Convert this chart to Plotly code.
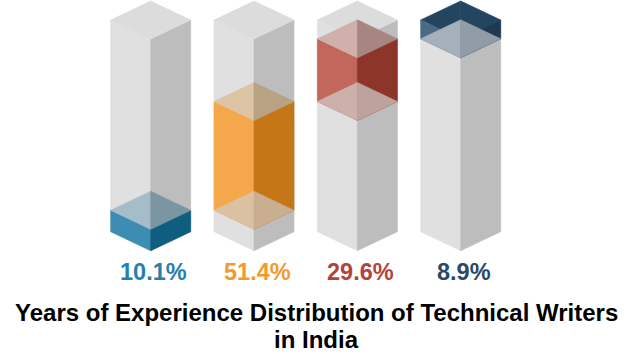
import plotly.graph_objects as go

# ---------------- data ----------------
groups = ["Group 1", "Group 2", "Group 3", "Group 4"]
shares = [10.1, 51.4, 29.6, 8.9]          # percent of technical writers
label_texts = [f"{v}%" for v in shares]
title_lines = ["Years of Experience Distribution of Technical Writers", "in India"]

# ---------------- styles ----------------
W_PX, H_PX = 632, 354
FIRST_CENTER_PX = 150.7     # pixel x of first column axis
STEP_PX = 103.33            # pixel distance between column axes
BASE_PX = 231.7             # pixel y of 0 % (side corners)
PX_PER_PCT = 2.117          # vertical pixels per percent
HALF_W_PX = 40.0            # half width of a column
DIAMOND_PX = 19.0           # vertical half height of the top rhombus

BODY = dict(left="#e0e0e0", right="#bdbdbd", top="#dcdcdc")
SEG = [
    dict(left="#3c8db1", right="#0f5e80", top_l="#a4bdc9", top_r="#7a96a3",
         bot_l="#a4bdc9", bot_r="#8aa5b1", full="#2a6f90", label="#2780ab"),
    dict(left="#f5a84b", right="#c57617", top_l="#dcc4a5", top_r="#b9a184",
         bot_l="#dac1a1", bot_r="#c9ae90", full="#e08a20", label="#f39a2c"),
    dict(left="#c2675b", right="#8d3529", top_l="#cfb0ab", top_r="#a78681",
         bot_l="#cdb0ac", bot_r="#bea29e", full="#a84435", label="#b3433a"),
    dict(left="#4b6b85", right="#1d3a52", top_l="#23455f", top_r="#23455f",
         bot_l="#a5b0ba", bot_r="#919ca6", full="#23455f", label="#294965"),
]
FONT = "Liberation Sans, Arial, sans-serif"

# derived scales
HW = HALF_W_PX / STEP_PX
D = DIAMOND_PX / PX_PER_PCT
x_range = [-FIRST_CENTER_PX / STEP_PX, (W_PX - FIRST_CENTER_PX) / STEP_PX]
y_range = [-(H_PX - BASE_PX) / PX_PER_PCT, BASE_PX / PX_PER_PCT]

fig = go.Figure()


def poly(xs, ys, color):
    fig.add_trace(go.Scatter(
        x=list(xs) + [xs[0]], y=list(ys) + [ys[0]], mode="lines",
        fill="toself", fillcolor=color, line=dict(color=color, width=0.6),
        hoverinfo="skip", showlegend=False))


def faces(cx, v0, v1, left, right):
    poly([cx - HW, cx, cx, cx - HW], [v0, v0 - D, v1 - D, v1], left)
    poly([cx, cx + HW, cx + HW, cx], [v0 - D, v0, v1, v1 - D], right)


def rhombus(cx, v, cl, cr):
    poly([cx - HW, cx, cx], [v, v + D, v - D], cl)
    poly([cx + HW, cx, cx], [v, v + D, v - D], cr)


total = sum(shares)
# glass bodies
for i in range(len(shares)):
    faces(i, 0, total, BODY["left"], BODY["right"])
    rhombus(i, total, BODY["top"], BODY["top"])

# coloured segments, stacked cumulatively
start = 0.0
for i, v in enumerate(shares):
    end = start + v
    c = SEG[i]
    if end >= total - 1e-9:
        rhombus(i, end, c["full"], c["full"])
    faces(i, start, end, c["left"], c["right"])
    if end < total - 1e-9:
        rhombus(i, end, c["top_l"], c["top_r"])
    if start > 0:
        rhombus(i, start, c["bot_l"], c["bot_r"])
    start = end

annotations = []
for i, t in enumerate(label_texts):
    annotations.append(dict(
        x=i, xref="x", y=1 - 271.5 / H_PX, yref="paper", text=f"<b>{t}</b>",
        showarrow=False, xanchor="center", yanchor="middle", xshift=3,
        font=dict(family=FONT, size=23.5, color=SEG[i]["label"])))
for j, (line, ypx) in enumerate(zip(title_lines, [312.0, 339.3])):
    annotations.append(dict(
        x=0.5, xref="paper", y=1 - ypx / H_PX, yref="paper", text=f"<b>{line}</b>",
        showarrow=False, xanchor="center", yanchor="middle",
        font=dict(family=FONT, size=24, color="#000000")))

fig.update_layout(
    width=W_PX, height=H_PX, autosize=False,
    margin=dict(l=0, r=0, t=0, b=0),
    paper_bgcolor="#ffffff", plot_bgcolor="#ffffff",
    xaxis=dict(range=x_range, visible=False, fixedrange=True),
    yaxis=dict(range=y_range, visible=False, fixedrange=True),
    annotations=annotations, showlegend=False,
)

fig.write_html("out.html")
